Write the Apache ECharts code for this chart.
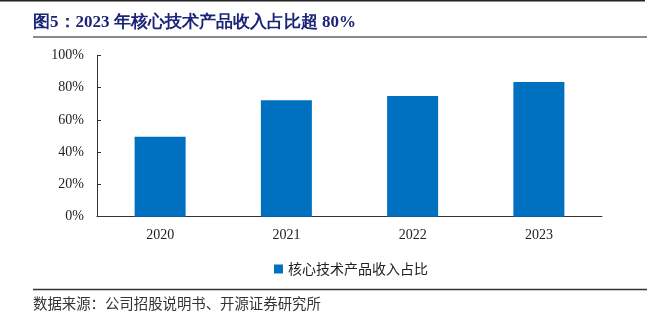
<!DOCTYPE html>
<html><head><meta charset="utf-8">
<script src="https://cdn.jsdelivr.net/npm/echarts@6/dist/echarts.min.js"></script>
<style>html,body{margin:0;padding:0;background:#fff}#c{width:665px;height:325px}</style>
</head><body><div id="c"></div>
<script>
const categories = ['2020', '2021', '2022', '2023'];
const shareValues = [49.5, 72.2, 74.8, 83.5];
const seriesName = '核心技术产品收入占比';
const yTicks = [0, 20, 40, 60, 80, 100];
const titleText = '图5：2023 年核心技术产品收入占比超 80%';
const sourceText = '数据来源：公司招股说明书、开源证券研究所';

const chart = echarts.init(document.getElementById('c'), null, {renderer: 'canvas'});
const serif = '"Liberation Serif", "Times New Roman", serif';
const cjk = '"Noto Sans CJK SC", sans-serif';
chart.setOption({
  animation: false,
  backgroundColor: '#fff',
  grid: {left: 97, right: 63, top: 55.3, bottom: 108.3, containLabel: false},
  legend: {
    data: [seriesName], left: 269, top: 257, itemWidth: 9, itemHeight: 9, itemGap: 3,
    icon: 'rect',
    textStyle: {fontFamily: cjk, fontSize: 14, color: '#222'}
  },
  xAxis: {
    type: 'category', data: categories,
    axisLine: {lineStyle: {color: '#333', width: 1}},
    axisTick: {inside: true, length: 4, lineStyle: {color: '#333'}},
    axisLabel: {fontFamily: serif, fontSize: 14, color: '#222', margin: 12}
  },
  yAxis: {
    type: 'value', min: yTicks[0], max: yTicks[yTicks.length - 1], interval: 20,
    axisLine: {show: true, lineStyle: {color: '#333', width: 1}},
    axisTick: {show: true, inside: true, length: 4, lineStyle: {color: '#333'}},
    splitLine: {show: false},
    axisLabel: {fontFamily: serif, fontSize: 14, color: '#222', margin: 13, formatter: v => v + '%'}
  },
  series: [{
    name: seriesName, type: 'bar', data: shareValues, barWidth: 51,
    itemStyle: {color: '#0070C0'}
  }],
  graphic: [
    {type: 'line', shape: {x1: 0, y1: 0.5, x2: 645, y2: 0.5}, style: {stroke: '#222', lineWidth: 2}},
    {type: 'text', left: 33, top: 14, style: {text: titleText, fill: '#1A2478', font: 'bold 17px ' + serif}},
    {type: 'line', shape: {x1: 33, y1: 37, x2: 647, y2: 37}, style: {stroke: '#8a8a8a', lineWidth: 2}},
    {type: 'line', shape: {x1: 33, y1: 289.5, x2: 647, y2: 289.5}, style: {stroke: '#333', lineWidth: 1.5}},
    {type: 'text', left: 33, top: 296, style: {text: sourceText, fill: '#333', font: '14.4px ' + cjk}}
  ]
});
</script></body></html>
